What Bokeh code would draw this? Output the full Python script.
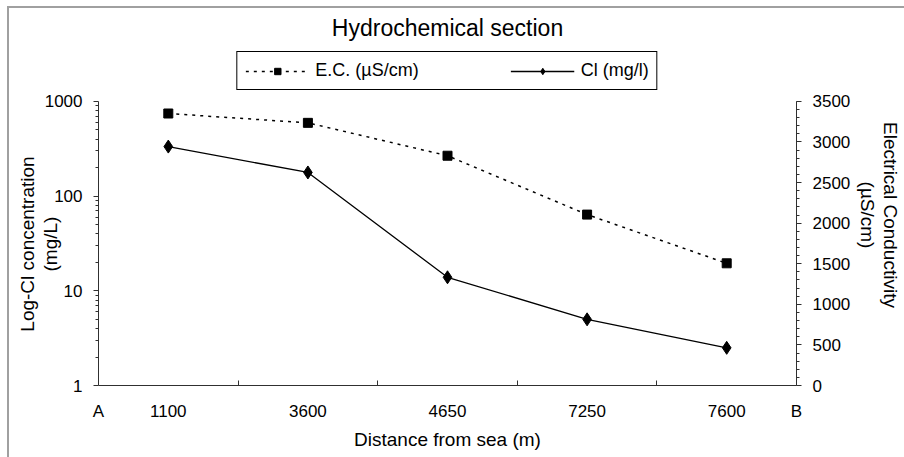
import math
from bokeh.plotting import figure
from bokeh.models import (Range1d, LinearAxis, LinearScale, FixedTicker, SingleIntervalTicker,
                          NumeralTickFormatter, Legend, LegendItem, ColumnDataSource)
from bokeh.embed import file_html
from bokeh.resources import INLINE

# ---- data -------------------------------------------------------------
distances = ["1100", "3600", "4650", "7250", "7600"]       # x categories (m)
ec_values = [3350, 3235, 2830, 2105, 1505]                  # E.C. (µS/cm)
cl_values = [334, 178, 13.9, 5.0, 2.5]                      # Cl (mg/l)
end_labels = ["A", "B"]
cl_major_ticks = [1, 10, 100, 1000]
ec_axis = (0, 3500)
ec_tick_step = 500
# head-room above the axes where the legend box sits
cl_view_top = 4000
ec_view_top = 4200

FONT = "Liberation Sans"
positions = list(range(1, len(distances) + 1))
x_lo, x_hi = 0.5, len(distances) + 0.5

p = figure(frame_width=698, frame_height=341, output_backend="svg", toolbar_location=None,
           x_range=Range1d(x_lo, x_hi),
           y_range=Range1d(cl_major_ticks[0], cl_view_top), y_axis_type="log",
           min_border_left=89, min_border_right=106, min_border_bottom=72, min_border_top=36)
p.styles = {"margin-left": "7px", "margin-top": "6px",
            "border-left": "2px solid #a0a0a0", "border-top": "2px solid #a0a0a0"}
p.extra_y_ranges = {"ec": Range1d(ec_axis[0], ec_view_top)}
p.extra_y_scales = {"ec": LinearScale()}
p.xgrid.visible = False
p.ygrid.visible = False
p.outline_line_color = None

p.title.text = "Hydrochemical section"
p.title.align = "center"
p.title.text_font = FONT
p.title.text_font_size = "23px"
p.title.text_font_style = "normal"
p.title.text_color = "black"
p.title.standoff = 8

# x axis (section ends A and B at the frame edges)
xa = p.xaxis[0]
xa.ticker = FixedTicker(ticks=[x_lo] + positions + [x_hi],
                        minor_ticks=[x + 0.5 for x in positions[:-1]])
overrides = {x: d for x, d in zip(positions, distances)}
overrides[x_lo] = end_labels[0]
overrides[x_hi] = end_labels[1]
xa.major_label_overrides = overrides
xa.major_tick_in = 0
xa.major_tick_out = 0
xa.minor_tick_in = 5
xa.minor_tick_out = 0
xa.major_label_standoff = 16
xa.major_label_text_font = FONT
xa.major_label_text_font_size = "17px"
xa.major_label_text_color = "black"
xa.axis_label = "Distance from sea (m)"
xa.axis_label_text_font = FONT
xa.axis_label_text_font_size = "19px"
xa.axis_label_text_font_style = "normal"
xa.axis_label_text_color = "black"
xa.axis_label_standoff = 5
xa.axis_line_color = "#303030"
xa.minor_tick_line_color = "#303030"

# left log axis
minor_log = [m * 10 ** k for k in range(3) for m in range(2, 10)]
ya = p.yaxis[0]
ya.bounds = (cl_major_ticks[0], cl_major_ticks[-1])
ya.ticker = FixedTicker(ticks=cl_major_ticks, minor_ticks=minor_log)
ya.formatter = NumeralTickFormatter(format="0")
ya.major_tick_out = 5
ya.major_tick_in = 0
ya.minor_tick_out = 3
ya.minor_tick_in = 0
ya.major_label_standoff = 11
ya.major_label_text_font = FONT
ya.major_label_text_font_size = "17px"
ya.major_label_text_color = "black"
ya.axis_line_color = "#303030"
ya.major_tick_line_color = "#303030"
ya.minor_tick_line_color = "#303030"
pad = " " * 11   # centres the title on the axis span rather than on the taller frame
ya.axis_label = "Log-Cl concentration" + pad + "\n(mg/L)" + pad
ya.axis_label_text_font = FONT
ya.axis_label_text_font_size = "19px"
ya.axis_label_text_font_style = "normal"
ya.axis_label_text_color = "black"
ya.axis_label_text_line_height = 1.1
ya.axis_label_standoff = -19

# right linear axis
ra = LinearAxis(y_range_name="ec", bounds=ec_axis,
                ticker=SingleIntervalTicker(interval=ec_tick_step, num_minor_ticks=5))
ra.major_tick_out = 5
ra.major_tick_in = 0
ra.minor_tick_out = 3
ra.minor_tick_in = 0
ra.major_label_standoff = 11
ra.major_label_text_font = FONT
ra.major_label_text_font_size = "17px"
ra.major_label_text_color = "black"
ra.axis_line_color = "#303030"
ra.major_tick_line_color = "#303030"
ra.minor_tick_line_color = "#303030"
ra.axis_label = "Electrical Conductivity\n(µS/cm)"
ra.axis_label_text_font = FONT
ra.axis_label_text_font_size = "19px"
ra.axis_label_text_font_style = "normal"
ra.axis_label_text_color = "black"
ra.axis_label_text_line_height = 1.1
ra.axis_label_standoff = 4
p.add_layout(ra, "right")

src = ColumnDataSource(dict(x=positions, ec=ec_values, cl=cl_values))
ec_line = p.line("x", "ec", source=src, y_range_name="ec", line_color="black",
                 line_width=1.5, line_dash="3 5")
ec_pts = p.scatter("x", "ec", source=src, y_range_name="ec", marker="square",
                   size=9, color="black")
cl_line = p.line("x", "cl", source=src, line_color="black", line_width=1.3)
cl_pts = p.scatter("x", "cl", source=src, marker="diamond", size=13, color="black")

legend = Legend(items=[LegendItem(label="E.C. (µS/cm)", renderers=[ec_line, ec_pts]),
                       LegendItem(label="Cl (mg/l)", renderers=[cl_line, cl_pts])],
                orientation="horizontal", location="top_center",
                border_line_color="black", border_line_width=1, border_line_alpha=1,
                glyph_width=64, glyph_height=16, label_height=16, label_standoff=6,
                spacing=92, padding=8, margin=7, background_fill_alpha=1,
                label_text_font=FONT, label_text_font_size="18px", label_text_color="black")
p.add_layout(legend, "center")

open("out.html", "w").write(file_html(p, INLINE))
